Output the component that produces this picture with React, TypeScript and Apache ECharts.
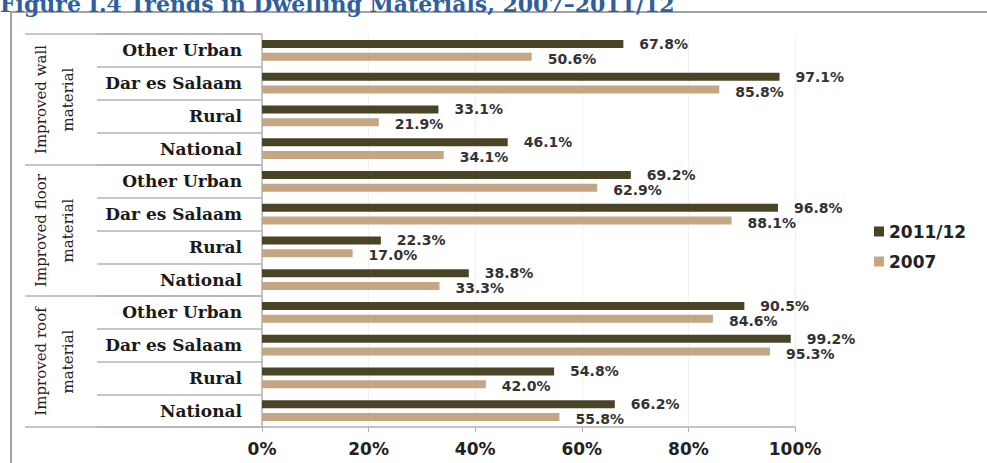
import React, { useEffect, useRef } from "react";
import * as echarts from "echarts";

const titleText = "Figure I.4 Trends in Dwelling Materials, 2007\u20132011/12";
const groupNames = ["Improved wall\nmaterial", "Improved floor\nmaterial", "Improved roof\nmaterial"];
const areaNames = ["Other Urban", "Dar es Salaam", "Rural", "National"];
const seriesNames = ["2011/12", "2007"];
const values2011 = [67.8, 97.1, 33.1, 46.1, 69.2, 96.8, 22.3, 38.8, 90.5, 99.2, 54.8, 66.2];
const values2007 = [50.6, 85.8, 21.9, 34.1, 62.9, 88.1, 17.0, 33.3, 84.6, 95.3, 42.0, 55.8];

const GRID_LEFT = 262;
const GRID_TOP = 34;
const GRID_RIGHT_X = 795;
const GRID_BOTTOM_Y = 427;
const W = 987;
const H = 463;

export default function App() {
  const ref = useRef<HTMLDivElement>(null);
  useEffect(() => {
    if (!ref.current) return;
    const chart = echarts.init(ref.current, undefined, { renderer: "svg" });
    const categories: string[] = [];
    groupNames.forEach((g, gi) => areaNames.forEach((a) => categories.push(gi + "|" + a)));
    const rowH = (GRID_BOTTOM_Y - GRID_TOP) / categories.length;
    const groupLines: any[] = [];
    for (let g = 0; g <= groupNames.length; g++) {
      const y = GRID_TOP + g * areaNames.length * rowH;
      groupLines.push({
        type: "line",
        shape: { x1: 25, y1: y, x2: GRID_LEFT, y2: y },
        style: { stroke: "#b3b3b3", lineWidth: 1.5 },
      });
    }
    const groupTexts = groupNames.map((g, gi) => ({
      type: "text",
      x: 54,
      y: GRID_TOP + (gi + 0.5) * areaNames.length * rowH,
      rotation: Math.PI / 2,
      style: {
        text: g,
        align: "center",
        verticalAlign: "middle",
        fontFamily: "DejaVu Serif",
        fontSize: 15,
        lineHeight: 27,
        fill: "#222",
      },
    }));
    const labelStyle = {
      show: true,
      position: "right",
      distance: 16,
      fontFamily: "DejaVu Sans",
      fontWeight: "bold",
      fontSize: 14,
      color: "#333",
      offset: [0, 1],
      formatter: (p: any) => Number(p.value).toFixed(1) + "%",
    };
    chart.setOption({
      animation: false,
      backgroundColor: "#fff",
      grid: {
        left: GRID_LEFT,
        top: GRID_TOP,
        right: W - GRID_RIGHT_X,
        bottom: H - GRID_BOTTOM_Y,
      },
      legend: {
        orient: "vertical",
        left: 869,
        top: 218,
        itemWidth: 10,
        itemHeight: 10,
        itemGap: 13,
        icon: "rect",
        data: seriesNames,
        textStyle: { fontFamily: "DejaVu Sans", fontWeight: "bold", fontSize: 17, color: "#222" },
      },
      xAxis: {
        type: "value",
        min: 0,
        max: 100,
        interval: 20,
        axisLine: { show: true, lineStyle: { color: "#b0b0b0", width: 1.5 } },
        axisTick: { show: true, length: 5, lineStyle: { color: "#b0b0b0" } },
        splitLine: { show: true, lineStyle: { color: "#f1f1f1" } },
        axisLabel: {
          formatter: "{value}%",
          fontFamily: "DejaVu Sans",
          fontWeight: "bold",
          fontSize: 17,
          color: "#222",
          margin: 13,
        },
      },
      yAxis: {
        type: "category",
        inverse: true,
        data: categories,
        axisLine: { show: true, lineStyle: { color: "#b3b3b3", width: 1.5 } },
        axisTick: { show: true, length: GRID_LEFT - 97, lineStyle: { color: "#b3b3b3", width: 1.5 } },
        axisLabel: {
          margin: 20,
          fontFamily: "DejaVu Serif",
          fontWeight: "bold",
          fontSize: 17,
          color: "#1a1a1a",
          formatter: (v: string) => v.split("|")[1],
        },
      },
      series: [
        {
          name: seriesNames[0],
          type: "bar",
          data: values2011,
          barWidth: 8,
          barGap: "62%",
          itemStyle: { color: "#4a4426" },
          label: { ...labelStyle, offset: [0, 0] },
        },
        {
          name: seriesNames[1],
          type: "bar",
          data: values2007,
          barWidth: 8,
          itemStyle: { color: "#c4a684" },
          label: { ...labelStyle, offset: [0, 2] },
        },
      ],
      graphic: [
        {
          type: "rect",
          shape: { x: 11, y: 12, width: 1000, height: 500 },
          style: { fill: "none", stroke: "#a3a3a3", lineWidth: 2 },
          silent: true,
        },
        {
          type: "text",
          x: 0,
          y: 15,
          style: {
            text: titleText,
            fontFamily: "DejaVu Serif",
            fontWeight: "bold",
            fontSize: 22,
            fill: "#2f5f9e",
            verticalAlign: "bottom",
          },
        },
        ...groupLines,
        ...groupTexts,
      ],
    });
    return () => chart.dispose();
  }, []);
  return (
    <div
      ref={ref}
      style={{ position: "fixed", left: 0, top: 0, width: W, height: H }}
    />
  );
}
